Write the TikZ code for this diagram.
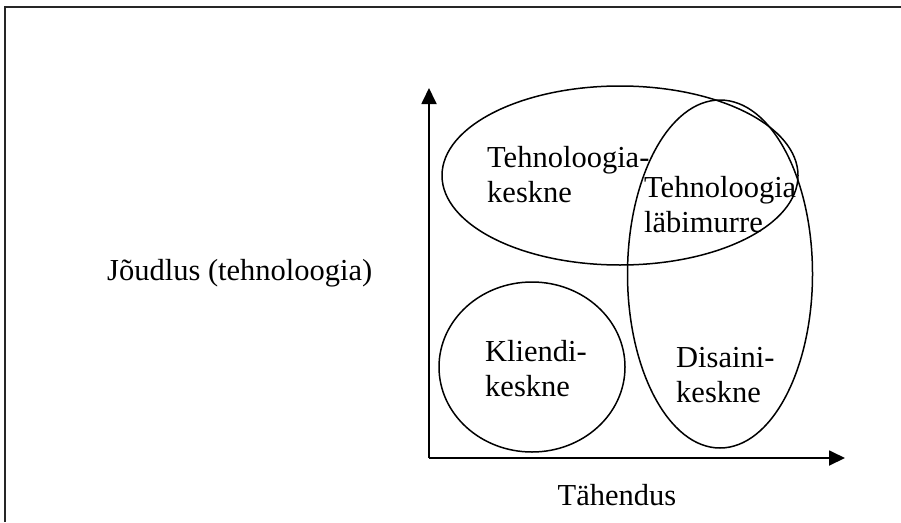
\documentclass[tikz,border=0pt]{standalone}
\usepackage{fontspec}
\setmainfont{Liberation Serif}
\usetikzlibrary{shapes.geometric,arrows.meta}
\begin{document}
\begin{tikzpicture}[x=1pt,y=-1pt,
  region/.style={draw,ellipse,line width=1.5pt,inner sep=0pt},
  axis/.style={line width=1.8pt,-{Triangle[length=16pt,width=15pt]}},
  lbl/.style={anchor=base west,align=left,inner sep=0pt,
    font=\fontsize{30.5}{34.5}\selectfont}]
  \useasboundingbox (0,0) rectangle (901,522);
  % page frame
  \draw[line width=2pt,black!85] (5,522) -- (5,7) -- (901,7);
  % axes
  \coordinate (origin) at (429,458);
  \coordinate (ytip) at (429,88);
  \coordinate (xtip) at (845,458);
  \draw[axis] (origin) -- (ytip);
  \draw[axis] (origin) -- (xtip);
  % regions
  \node[region,minimum width=356pt,minimum height=179pt] (tech) at (620,175.5) {};
  \node[region,minimum width=185pt,minimum height=348pt] (design) at (720,274) {};
  \node[region,minimum width=186pt,minimum height=170pt] (client) at (532,367) {};
  % labels (anchored at the baseline of their last line)
  \node[lbl] (techlbl) at (487,202) {Tehnoloogia-\\keskne};
  \node[lbl] (breaklbl) at (644,232) {Tehnoloogia\\läbimurre};
  \node[lbl] (clientlbl) at (485,396) {Kliendi-\\keskne};
  \node[lbl] (designlbl) at (676,402) {Disaini-\\keskne};
  \node[lbl] (ylbl) at (107,280) {Jõudlus (tehnoloogia)};
  \node[lbl,anchor=base] (xlbl) at (617,505) {Tähendus};
\end{tikzpicture}
\end{document}
